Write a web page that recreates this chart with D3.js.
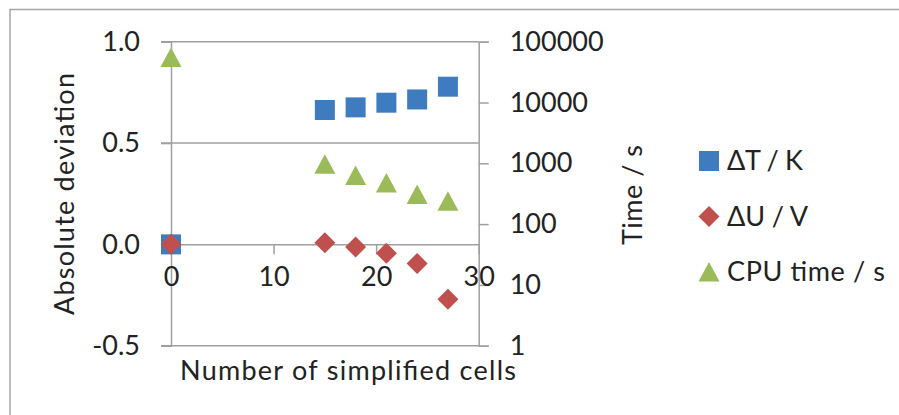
<!DOCTYPE html>
<html>
<head>
<meta charset="utf-8">
<script src="https://cdn.jsdelivr.net/npm/d3@7"></script>
<style>
    body { margin: 0; background: #fff; }
    text { font-family: Lato, "Open Sans", sans-serif; fill: #222; }
</style>
</head>
<body>
<div id="canvas"></div>
<script>
"use strict";

// data
let cells = [0, 15, 18, 21, 24, 27];
let deltaT = [0.0, 0.663, 0.676, 0.699, 0.715, 0.778];
let deltaU = [0.0, 0.008, -0.013, -0.044, -0.094, -0.271];
let cpuTime = [55000, 964, 628, 474, 307, 237];

let leftTicks = [-0.5, 0.0, 0.5, 1.0];
let rightTicks = [1, 10, 100, 1000, 10000, 100000];
let xTicks = [0, 10, 20, 30];
let legendNames = ["ΔT / K", "ΔU / V", "CPU time / s"];

let colors = ["#3f7cbf", "#c0504d", "#9bbb59"];
let grey = "#a0a0a0";

let drawing = d3.select("#canvas")
    .append("svg")
    .attr("width", 899)
    .attr("height", 415);

let x = d3.scaleLinear().domain([0, 30]).range([171, 478.7]);
let yL = d3.scaleLinear().domain([-0.5, 1]).range([345.7, 41.7]);
let yR = d3.scaleLog().domain([1, 100000]).range([345.7, 41.7]);

// chart area border (only top and left are visible)
drawing.append("path")
    .attr("d", "M10,420 L10,9.5 L905,9.5")
    .attr("fill", "none")
    .attr("stroke", "#a6a6a6")
    .attr("stroke-width", 1.5);

// horizontal gridlines
drawing.append("g")
    .selectAll("line")
    .data(leftTicks.filter(d => d !== 0))
    .join("line")
    .attr("x1", x(0) - 10)
    .attr("x2", x(30))
    .attr("y1", d => yL(d))
    .attr("y2", d => yL(d))
    .attr("stroke", grey)
    .attr("stroke-width", 1.5);

// left axis (plain hyphen for negatives, like the original)
let leftAxis = d3.axisLeft(yL)
    .tickValues(leftTicks)
    .tickFormat(d => d.toFixed(1))
    .tickSize(10)
    .tickPadding(21);
let gl = drawing.append("g")
    .attr("transform", `translate(${x(0)},0)`)
    .call(leftAxis);

// right axis (log)
let rightAxis = d3.axisRight(yR)
    .tickValues(rightTicks)
    .tickFormat(d3.format("d"))
    .tickSize(10)
    .tickPadding(21);
let gr = drawing.append("g")
    .attr("transform", `translate(${x(30)},0)`)
    .call(rightAxis);

// x axis crossing at 0
let bottomAxis = d3.axisBottom(x)
    .tickValues(xTicks)
    .tickSize(10)
    .tickPadding(22);
let gb = drawing.append("g")
    .attr("transform", `translate(0,${yL(0)})`)
    .call(bottomAxis);

[gl, gr, gb].forEach(g => {
    g.select(".domain").attr("stroke", grey).attr("stroke-width", 1.5);
    g.selectAll(".tick line").attr("stroke", grey).attr("stroke-width", 1.5);
    g.selectAll(".tick text")
        .attr("font-size", 27)
        .attr("fill", "#222")
        .style("font-family", "Lato, 'Open Sans', sans-serif");
});
gb.selectAll(".tick text").attr("dy", "0.35em").attr("y", 32);
gb.selectAll(".tick line").filter(d => d === 0 || d === 30).remove();

// axis titles
drawing.append("text")
    .attr("transform", "translate(74,194) rotate(-90)")
    .attr("text-anchor", "middle")
    .attr("font-size", 27)
    .attr("textLength", 242)
    .attr("lengthAdjust", "spacing")
    .text("Absolute deviation");

drawing.append("text")
    .attr("transform", "translate(642,195) rotate(-90)")
    .attr("text-anchor", "middle")
    .attr("font-size", 27)
    .attr("textLength", 100)
    .attr("lengthAdjust", "spacing")
    .text("Time / s");

drawing.append("text")
    .attr("x", 348)
    .attr("y", 380)
    .attr("text-anchor", "middle")
    .attr("font-size", 27)
    .attr("textLength", 336)
    .attr("lengthAdjust", "spacing")
    .text("Number of simplified cells");

// markers
let square = d3.symbol().type(d3.symbolSquare).size(400);
let diamond = "M0,-10.5 L10.5,0 L0,10.5 L-10.5,0 Z";
let triangle = "M0,-10 L10.5,9.5 L-10.5,9.5 Z";

drawing.append("g")
    .selectAll("path")
    .data(cells)
    .join("path")
    .attr("d", square())
    .attr("transform", (d, i) => `translate(${x(d)},${yL(deltaT[i])})`)
    .attr("fill", colors[0]);

drawing.append("g")
    .selectAll("path")
    .data(cells)
    .join("path")
    .attr("d", diamond)
    .attr("transform", (d, i) => `translate(${x(d)},${yL(deltaU[i])})`)
    .attr("fill", colors[1]);

drawing.append("g")
    .selectAll("path")
    .data(cells)
    .join("path")
    .attr("d", triangle)
    .attr("transform", (d, i) => `translate(${x(d)},${yR(cpuTime[i])})`)
    .attr("fill", colors[2]);

// legend
let legendShapes = [square(), diamond, triangle];
let legendWidths = [76, 81, 158];
let legend = drawing.append("g")
    .selectAll("g")
    .data(legendNames)
    .join("g")
    .attr("transform", (d, i) => `translate(709,${161 + i * 55.5})`);

legend.append("path")
    .attr("d", (d, i) => legendShapes[i])
    .attr("fill", (d, i) => colors[i]);

legend.append("text")
    .attr("x", 18)
    .attr("dy", "0.35em")
    .attr("font-size", 27)
    .attr("textLength", (d, i) => legendWidths[i])
    .attr("lengthAdjust", "spacing")
    .text(d => d);
</script>
</body>
</html>
